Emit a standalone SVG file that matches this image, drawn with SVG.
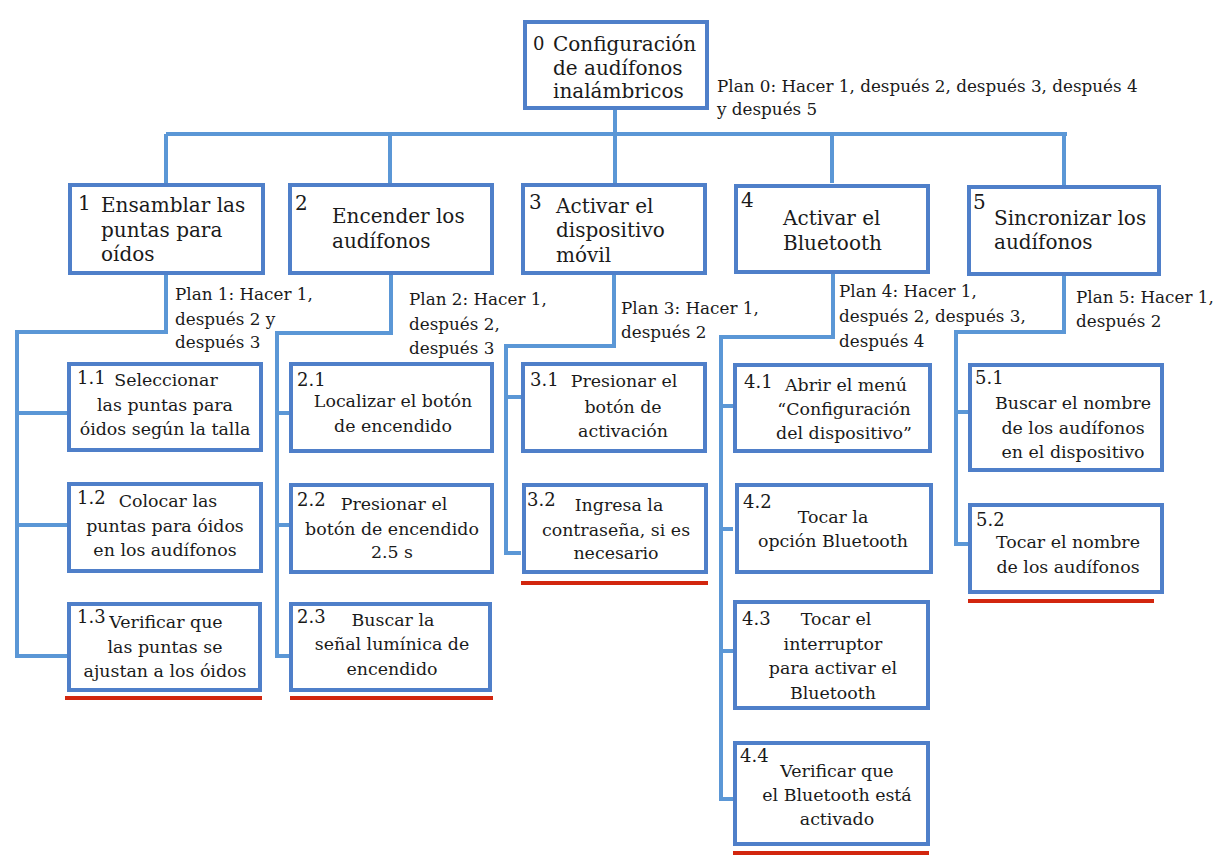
<svg xmlns="http://www.w3.org/2000/svg" width="1219" height="867" viewBox="0 0 1219 867">
<style>
.box{fill:#fff;stroke:#4f7fc9;stroke-width:4}
.con{fill:none;stroke:#5b97d6;stroke-width:4}
.red{stroke:#d2260e;stroke-width:4}
text{font-family:"DejaVu Serif","Liberation Serif",serif;fill:#1a1a1a}
.t1{font-size:20px}
.t2{font-size:17.4px}
.n{font-size:18px}
.p{font-size:16.8px}
.c{text-anchor:middle}
</style>
<rect width="1219" height="867" fill="#fff"/>
<g id="connectors">
<path class="con" d="M615 109V183M166 134H1067M166 134V183M390 134V183M832 134V183M1064 134V185"/>
<path class="con" d="M166 275V332H17V656H67M17 413H67M17 525H67"/>
<path class="con" d="M391 275V333H277V656H289M277 413H289M277 525H289"/>
<path class="con" d="M614 275V346H506V553H521M506 397H521"/>
<path class="con" d="M833 274V337H721V799H733M721 406H733M721 529H733M721 651H733"/>
<path class="con" d="M1064 276V332H956V544H968M956 412H968"/>
<path class="red" d="M65 698H262M290 698H493M521 583H708M968 601H1154M733 853H929"/>
</g>
<g id="n0">
<rect class="box" x="525" y="22" width="182" height="86"/>
<text class="n" x="533" y="50">0</text>
<text class="t1" x="553" y="51">Configuración</text>
<text class="t1" x="553" y="75">de audífonos</text>
<text class="t1" x="553" y="98">inalámbricos</text>
</g>
<g id="plan0">
<text class="p" x="717" y="92">Plan 0: Hacer 1, después 2, después 3, después 4</text>
<text class="p" x="717" y="115">y después 5</text>
</g>
<g id="n1">
<rect class="box" x="70" y="185" width="193" height="88"/>
<text class="t1" x="78" y="210">1</text>
<text class="t1" x="101" y="212">Ensamblar las</text>
<text class="t1" x="101" y="237">puntas para</text>
<text class="t1" x="101" y="261">oídos</text>
</g>
<g id="n2">
<rect class="box" x="290" y="185" width="202" height="88"/>
<text class="t1" x="295" y="210">2</text>
<text class="t1" x="332" y="223">Encender los</text>
<text class="t1" x="332" y="248">audífonos</text>
</g>
<g id="n3">
<rect class="box" x="523" y="185" width="182" height="88"/>
<text class="t1" x="529" y="209">3</text>
<text class="t1" x="556" y="213">Activar el</text>
<text class="t1" x="556" y="237">dispositivo</text>
<text class="t1" x="556" y="262">móvil</text>
</g>
<g id="n4">
<rect class="box" x="736" y="186" width="192" height="86"/>
<text class="t1" x="741" y="207">4</text>
<text class="t1" x="783" y="225">Activar el</text>
<text class="t1" x="783" y="250">Bluetooth</text>
</g>
<g id="n5">
<rect class="box" x="969" y="187" width="190" height="87"/>
<text class="t1" x="973" y="209">5</text>
<text class="t1" x="994" y="225">Sincronizar los</text>
<text class="t1" x="994" y="249">audífonos</text>
</g>
<g id="plan1">
<text class="p" x="175" y="300">Plan 1: Hacer 1,</text>
<text class="p" x="175" y="325">después 2 y</text>
<text class="p" x="175" y="348">después 3</text>
</g>
<g id="plan2">
<text class="p" x="409" y="305">Plan 2: Hacer 1,</text>
<text class="p" x="409" y="330">después 2,</text>
<text class="p" x="409" y="354">después 3</text>
</g>
<g id="plan3">
<text class="p" x="621" y="314">Plan 3: Hacer 1,</text>
<text class="p" x="621" y="338">después 2</text>
</g>
<g id="plan4">
<text class="p" x="839" y="297">Plan 4: Hacer 1,</text>
<text class="p" x="839" y="322">después 2, después 3,</text>
<text class="p" x="839" y="347">después 4</text>
</g>
<g id="plan5">
<text class="p" x="1076" y="303">Plan 5: Hacer 1,</text>
<text class="p" x="1076" y="327">después 2</text>
</g>
<g id="n1_1">
<rect class="box" x="69" y="364" width="192" height="86"/>
<text class="n" x="77" y="384">1.1</text>
<text class="t2 c" x="166" y="386">Seleccionar</text>
<text class="t2 c" x="165" y="411">las puntas para</text>
<text class="t2 c" x="165" y="435">óidos según la talla</text>
</g>
<g id="n1_2">
<rect class="box" x="69" y="484" width="192" height="87"/>
<text class="n" x="77" y="504">1.2</text>
<text class="t2 c" x="168" y="507">Colocar las</text>
<text class="t2 c" x="165" y="532">puntas para óidos</text>
<text class="t2 c" x="165" y="556">en los audífonos</text>
</g>
<g id="n1_3">
<rect class="box" x="69" y="604" width="191" height="86"/>
<text class="n" x="77" y="623">1.3</text>
<text class="t2 c" x="166" y="628">Verificar que</text>
<text class="t2 c" x="165" y="653">las puntas se</text>
<text class="t2 c" x="165" y="677">ajustan a los óidos</text>
</g>
<g id="n2_1">
<rect class="box" x="291" y="364" width="201" height="87"/>
<text class="n" x="297" y="386">2.1</text>
<text class="t2 c" x="393" y="407">Localizar el botón</text>
<text class="t2 c" x="393" y="432">de encendido</text>
</g>
<g id="n2_2">
<rect class="box" x="291" y="485" width="201" height="87"/>
<text class="n" x="297" y="506">2.2</text>
<text class="t2 c" x="394" y="510">Presionar el</text>
<text class="t2 c" x="392" y="535">botón de encendido</text>
<text class="t2 c" x="392" y="558">2.5 s</text>
</g>
<g id="n2_3">
<rect class="box" x="291" y="604" width="199" height="86"/>
<text class="n" x="297" y="623">2.3</text>
<text class="t2 c" x="393" y="626">Buscar la</text>
<text class="t2 c" x="392" y="650">señal lumínica de</text>
<text class="t2 c" x="392" y="675">encendido</text>
</g>
<g id="n3_1">
<rect class="box" x="523" y="364" width="182" height="87"/>
<text class="n" x="530" y="386">3.1</text>
<text class="t2 c" x="624" y="387">Presionar el</text>
<text class="t2 c" x="623" y="413">botón de</text>
<text class="t2 c" x="623" y="437">activación</text>
</g>
<g id="n3_2">
<rect class="box" x="524" y="485" width="182" height="87"/>
<text class="n" x="527" y="506">3.2</text>
<text class="t2 c" x="619" y="511">Ingresa la</text>
<text class="t2 c" x="616" y="536">contraseña, si es</text>
<text class="t2 c" x="616" y="559">necesario</text>
</g>
<g id="n4_1">
<rect class="box" x="735" y="365" width="195" height="86"/>
<text class="n" x="744" y="388">4.1</text>
<text class="t2 c" x="846" y="391">Abrir el menú</text>
<text class="t2 c" x="844" y="415">“Configuración</text>
<text class="t2 c" x="844" y="439">del dispositivo”</text>
</g>
<g id="n4_2">
<rect class="box" x="737" y="485" width="194" height="87"/>
<text class="n" x="743" y="508">4.2</text>
<text class="t2 c" x="833" y="523">Tocar la</text>
<text class="t2 c" x="833" y="547">opción Bluetooth</text>
</g>
<g id="n4_3">
<rect class="box" x="735" y="602" width="193" height="106"/>
<text class="n" x="742" y="625">4.3</text>
<text class="t2 c" x="836" y="625">Tocar el</text>
<text class="t2 c" x="833" y="650">interruptor</text>
<text class="t2 c" x="833" y="674">para activar el</text>
<text class="t2 c" x="833" y="699">Bluetooth</text>
</g>
<g id="n4_4">
<rect class="box" x="735" y="743" width="193" height="101"/>
<text class="n" x="740" y="762">4.4</text>
<text class="t2 c" x="837" y="777">Verificar que</text>
<text class="t2 c" x="837" y="801">el Bluetooth está</text>
<text class="t2 c" x="837" y="825">activado</text>
</g>
<g id="n5_1">
<rect class="box" x="970" y="365" width="192" height="105"/>
<text class="n" x="975" y="384">5.1</text>
<text class="t2 c" x="1073" y="409">Buscar el nombre</text>
<text class="t2 c" x="1073" y="434">de los audífonos</text>
<text class="t2 c" x="1073" y="458">en el dispositivo</text>
</g>
<g id="n5_2">
<rect class="box" x="970" y="505" width="192" height="87"/>
<text class="n" x="976" y="526">5.2</text>
<text class="t2 c" x="1068" y="548">Tocar el nombre</text>
<text class="t2 c" x="1068" y="573">de los audífonos</text>
</g>
</svg>
